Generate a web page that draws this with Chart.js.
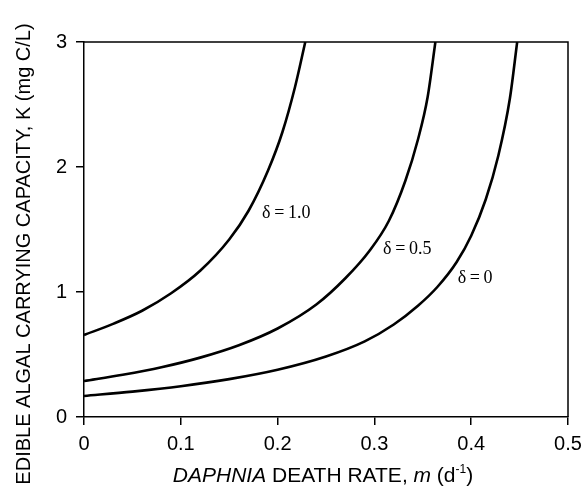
<!DOCTYPE html>
<html>
<head>
<meta charset="utf-8">
<script src="https://cdn.jsdelivr.net/npm/chart.js@4/dist/chart.umd.min.js"></script>
<style>
  html, body { margin: 0; padding: 0; background: #fff; }
  #wrap { width: 583px; height: 500px; }
</style>
</head>
<body>
<div id="wrap"><canvas id="curves"></canvas></div>
<script>
// values: m (d-1) and K (mg C/L)
const m_d10 = [0, 0.03, 0.06, 0.09, 0.12, 0.15, 0.17, 0.19, 0.205, 0.218, 0.2286];
const k_d10 = [0.656, 0.745, 0.85, 0.99, 1.17, 1.42, 1.65, 1.97, 2.28, 2.64, 3.0];

const m_d05 = [0, 0.04, 0.08, 0.12, 0.16, 0.2, 0.24, 0.27, 0.295, 0.315, 0.332, 0.345, 0.355, 0.363];
const k_d05 = [0.288, 0.338, 0.398, 0.475, 0.574, 0.708, 0.90, 1.11, 1.33, 1.57, 1.89, 2.22, 2.56, 3.0];

const m_d0 = [0, 0.05, 0.1, 0.15, 0.2, 0.25, 0.29, 0.32, 0.345, 0.365, 0.385, 0.40, 0.415, 0.428, 0.44, 0.4475];
const k_d0 = [0.168, 0.203, 0.246, 0.303, 0.378, 0.484, 0.605, 0.74, 0.89, 1.04, 1.24, 1.45, 1.74, 2.09, 2.55, 3.0];

const curve_labels = ['\u03B4\u2009=\u20091.0', '\u03B4\u2009=\u20090.5', '\u03B4\u2009=\u20090'];
const label_m = [0.184, 0.309, 0.386];
const label_k = [1.63, 1.344, 1.11];

const x_title = 'DAPHNIA DEATH RATE, m (d-1)';
const y_title = 'EDIBLE ALGAL CARRYING CAPACITY, K (mg C/L)';

const pts = (xs, ys) => xs.map((x, i) => ({ x: x, y: ys[i] }));

const line = (xs, ys) => ({
  data: pts(xs, ys),
  showLine: true,
  borderColor: '#000',
  borderWidth: 2.6,
  pointRadius: 0,
  cubicInterpolationMode: 'monotone',
  fill: false
});

// top and right edges of the box
const framePlugin = {
  id: 'frame',
  afterDraw(chart) {
    const { ctx, chartArea: a } = chart;
    ctx.save();
    ctx.strokeStyle = '#000';
    ctx.lineWidth = 1.5;
    ctx.beginPath();
    ctx.moveTo(a.left, a.top);
    ctx.lineTo(a.right, a.top);
    ctx.lineTo(a.right, a.bottom);
    ctx.stroke();
    ctx.restore();
  }
};

// curve labels + axis titles (mixed italic / superscript)
const textPlugin = {
  id: 'texts',
  afterDraw(chart) {
    const { ctx } = chart;
    const xs = chart.scales.x, ys = chart.scales.y;
    ctx.save();
    ctx.fillStyle = '#000';

    ctx.font = '18px "Liberation Serif", serif';
    ctx.textAlign = 'left';
    ctx.textBaseline = 'middle';
    curve_labels.forEach((t, i) => {
      ctx.fillText(t, xs.getPixelForValue(label_m[i]), ys.getPixelForValue(label_k[i]));
    });

    // y title
    ctx.save();
    ctx.translate(24, 254);
    ctx.rotate(-Math.PI / 2);
    ctx.font = '20px "Liberation Sans", Arial, sans-serif';
    ctx.textAlign = 'center';
    ctx.textBaseline = 'middle';
    ctx.fillText(y_title, 0, 0);
    ctx.restore();

    // x title in runs
    const base = '"Liberation Sans", Arial, sans-serif';
    const runs = [
      { t: 'DAPHNIA', f: 'italic 21px ' + base, dy: 0 },
      { t: ' DEATH RATE, ', f: '21px ' + base, dy: 0 },
      { t: 'm', f: 'italic 21px ' + base, dy: 0 },
      { t: ' (d', f: '21px ' + base, dy: 0 },
      { t: '-1', f: '12px ' + base, dy: -9 },
      { t: ')', f: '21px ' + base, dy: 0 }
    ];
    let w = 0;
    runs.forEach(r => { ctx.font = r.f; r.w = ctx.measureText(r.t).width; w += r.w; });
    let x = 323 - w / 2;
    ctx.textAlign = 'left';
    ctx.textBaseline = 'alphabetic';
    runs.forEach(r => { ctx.font = r.f; ctx.fillText(r.t, x, 482 + r.dy); x += r.w; });
    ctx.restore();
  }
};

const tickFont = { family: '"Liberation Sans", Arial, sans-serif', size: 20 };

new Chart(document.getElementById('curves'), {
  type: 'scatter',
  data: {
    datasets: [line(m_d10, k_d10), line(m_d05, k_d05), line(m_d0, k_d0)]
  },
  options: {
    responsive: true,
    maintainAspectRatio: false,
    animation: false,
    layout: { padding: { left: 0, top: 42, right: 15, bottom: 0 } },
    plugins: { legend: { display: false }, tooltip: { enabled: false } },
    scales: {
      x: {
        type: 'linear', min: 0, max: 0.5,
        afterFit(s) { s.height = 83; s.paddingLeft = 0; s.paddingRight = 0; },
        grid: { drawOnChartArea: false, drawTicks: true, tickLength: 8, color: '#000', lineWidth: 1.5 },
        border: { display: true, color: '#000', width: 1.5 },
        ticks: { stepSize: 0.1, color: '#000', font: tickFont, padding: 7, maxRotation: 0 }
      },
      y: {
        type: 'linear', min: 0, max: 3,
        afterFit(s) { s.width = 84; s.paddingTop = 0; s.paddingBottom = 0; },
        grid: { drawOnChartArea: false, drawTicks: true, tickLength: 8, color: '#000', lineWidth: 1.5 },
        border: { display: true, color: '#000', width: 1.5 },
        ticks: { stepSize: 1, color: '#000', font: tickFont, padding: 9 }
      }
    }
  },
  plugins: [framePlugin, textPlugin]
});
</script>
</body>
</html>
